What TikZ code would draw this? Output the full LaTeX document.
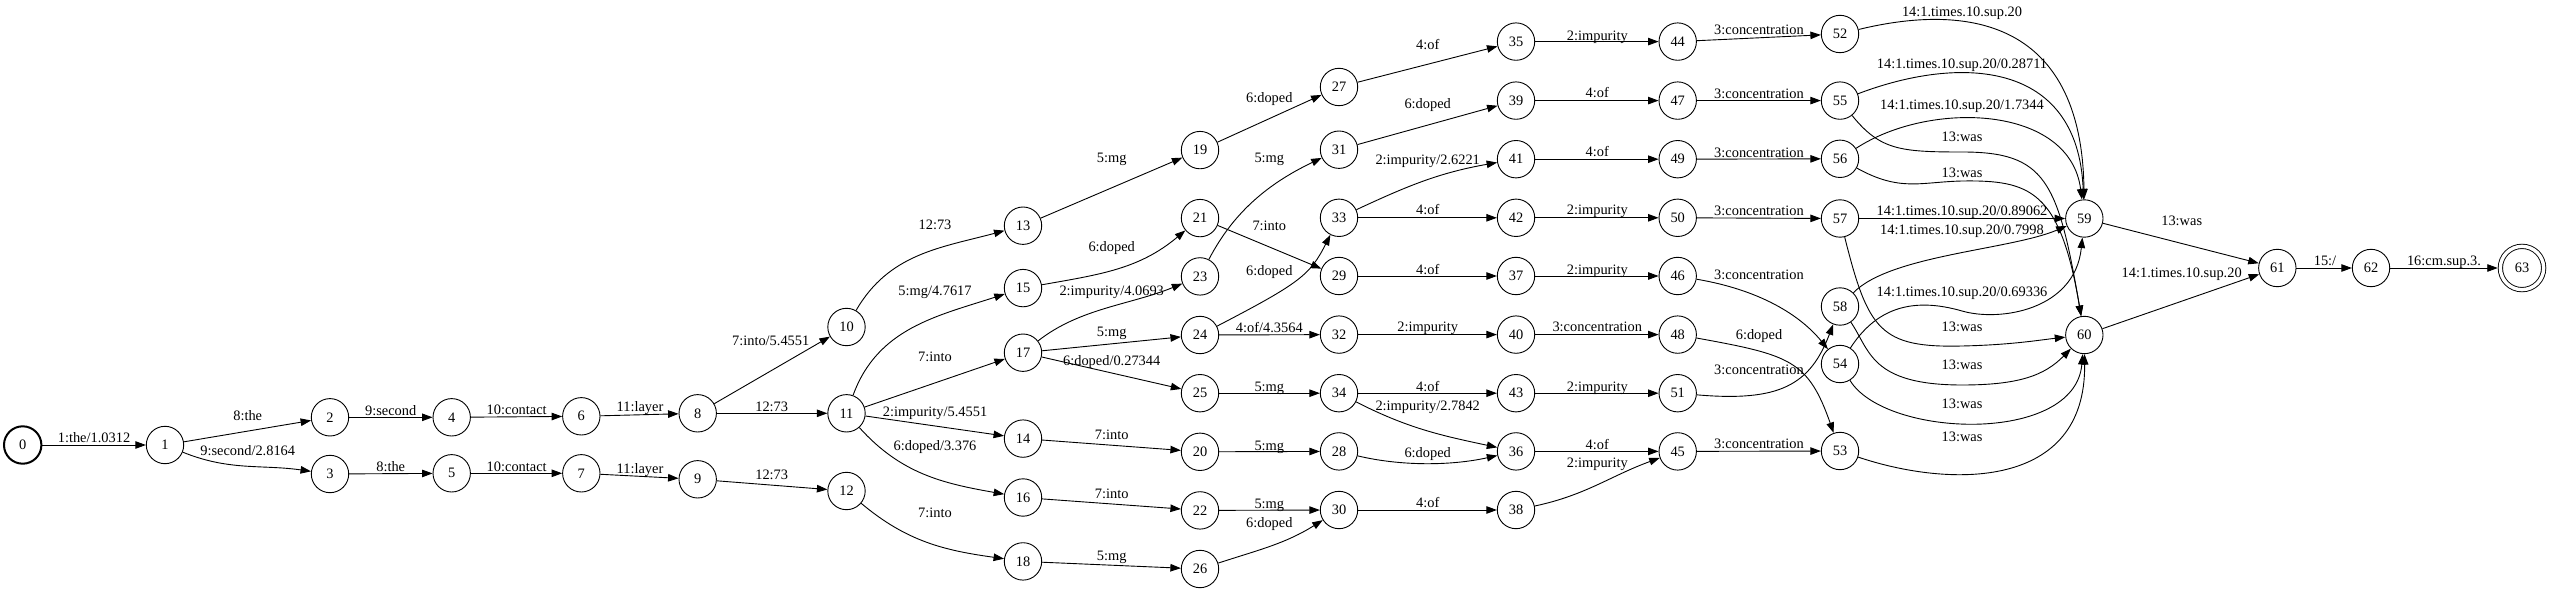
\documentclass[tikz,border=0pt]{standalone}
\usepackage{fontspec}
\setmainfont{Liberation Serif}
\usetikzlibrary{arrows.meta,automata}

\begin{document}
\begin{tikzpicture}[->,>={Triangle[length=10.5pt,width=7.5pt]},x=1pt,y=1pt,line width=.9pt,
  font=\fontsize{14.4}{17}\selectfont]
  \tikzstyle{every state}=[minimum size=37.4pt,inner sep=0pt]
  \tikzstyle{startstate}=[line width=2pt]
  \tikzstyle{finalstate}=[double,double distance=3.4pt,minimum size=43.3pt,outer sep=2.6pt]
  \tikzstyle{lbl}=[inner sep=0pt,text height=10pt,text depth=0pt]

  \useasboundingbox (0,0) rectangle (2550,-593);

  \node[state,startstate] (n0) at (22.7,-445) {0};
  \node[state] (n1)  at (165,-445)     {1};
  \node[state] (n2)  at (330,-417.3)   {2};
  \node[state] (n3)  at (330,-474)     {3};
  \node[state] (n4)  at (451.7,-417.3) {4};
  \node[state] (n5)  at (451.7,-473.3) {5};
  \node[state] (n6)  at (581.3,-416.3) {6};
  \node[state] (n7)  at (581.3,-473.3) {7};
  \node[state] (n8)  at (697.7,-413.3) {8};
  \node[state] (n9)  at (697.7,-479.3) {9};
  \node[state] (n10) at (846.5,-327)   {10};
  \node[state] (n11) at (846.5,-413.3) {11};
  \node[state] (n12) at (846.5,-491)   {12};
  \node[state] (n13) at (1023,-225.7)  {13};
  \node[state] (n15) at (1023,-288.1)  {15};
  \node[state] (n17) at (1023,-352.7)  {17};
  \node[state] (n14) at (1023,-438.6)  {14};
  \node[state] (n16) at (1023,-497.5)  {16};
  \node[state] (n18) at (1023,-561.4)  {18};
  \node[state] (n19) at (1200,-150.1)  {19};
  \node[state] (n21) at (1200,-218.1)  {21};
  \node[state] (n23) at (1200,-276.4)  {23};
  \node[state] (n24) at (1200,-335)    {24};
  \node[state] (n25) at (1200,-393.2)  {25};
  \node[state] (n20) at (1200,-451.8)  {20};
  \node[state] (n22) at (1200,-510.4)  {22};
  \node[state] (n26) at (1200,-569)    {26};
  \node[state] (n27) at (1339,-87)     {27};
  \node[state] (n31) at (1339,-149.7)  {31};
  \node[state] (n33) at (1339,-217.8)  {33};
  \node[state] (n29) at (1339,-276)    {29};
  \node[state] (n32) at (1339,-334.6)  {32};
  \node[state] (n34) at (1339,-393.2)  {34};
  \node[state] (n28) at (1339,-451.4)  {28};
  \node[state] (n30) at (1339,-510)    {30};
  \node[state] (n35) at (1516,-41.6)   {35};
  \node[state] (n39) at (1516,-100.6)  {39};
  \node[state] (n41) at (1516,-159.2)  {41};
  \node[state] (n42) at (1516,-217.8)  {42};
  \node[state] (n37) at (1516,-276)    {37};
  \node[state] (n40) at (1516,-334.6)  {40};
  \node[state] (n43) at (1516,-393.2)  {43};
  \node[state] (n36) at (1516,-451.4)  {36};
  \node[state] (n38) at (1516,-510)    {38};
  \node[state] (n44) at (1677.7,-41.6)  {44};
  \node[state] (n47) at (1677.7,-100.6) {47};
  \node[state] (n49) at (1677.7,-159.2) {49};
  \node[state] (n50) at (1677.7,-217.8) {50};
  \node[state] (n46) at (1677.7,-276)   {46};
  \node[state] (n48) at (1677.7,-334.6) {48};
  \node[state] (n51) at (1677.7,-393.2) {51};
  \node[state] (n45) at (1677.7,-451.4) {45};
  \node[state] (n52) at (1840,-34)     {52};
  \node[state] (n55) at (1840,-100.6)  {55};
  \node[state] (n56) at (1840,-158.8)  {56};
  \node[state] (n57) at (1840,-218.5)  {57};
  \node[state] (n58) at (1840,-306.5)  {58};
  \node[state] (n54) at (1840,-364)    {54};
  \node[state] (n53) at (1840,-451)    {53};
  \node[state] (n59) at (2084.3,-218.5) {59};
  \node[state] (n60) at (2084.3,-335)   {60};
  \node[state] (n61) at (2277.3,-268)   {61};
  \node[state] (n62) at (2371,-268)     {62};
  \node[state,finalstate] (n63) at (2522,-268) {63};

  \path (n0) edge (n1)  node[lbl] at (94,-437.7)  {1:the/1.0312}
        (n1) edge (n2)  node[lbl] at (247.7,-415) {8:the}
        (n1) edge [out=-22,in=172] (n3) node[lbl] at (247.7,-450) {9:second/2.8164}
        (n2) edge (n4)  node[lbl] at (390.7,-410.7) {9:second}
        (n3) edge (n5)  node[lbl] at (390.7,-466.7) {8:the}
        (n4) edge (n6)  node[lbl] at (516.7,-409.3) {10:contact}
        (n5) edge (n7)  node[lbl] at (516.7,-466)   {10:contact}
        (n6) edge (n8)  node[lbl] at (640,-406.7)   {11:layer}
        (n7) edge (n9)  node[lbl] at (640,-468.3)   {11:layer}
        (n8) edge (n10) node[lbl] at (770.7,-340)   {7:into/5.4551}
        (n8) edge (n11) node[lbl] at (771.7,-406)   {12:73}
        (n9) edge (n12) node[lbl] at (771.7,-474)   {12:73};

  \path (n10) edge [out=60,in=195] (n13) node[lbl] at (935,-225) {12:73}
        (n11) edge [out=70,in=198] (n15) node[lbl] at (935,-291) {5:mg/4.7617}
        (n11) edge (n17) node[lbl] at (935,-356) {7:into}
        (n11) edge (n14) node[lbl] at (935,-411) {2:impurity/5.4551}
        (n11) edge [out=-48,in=170] (n16) node[lbl] at (935,-445) {6:doped/3.376}
        (n12) edge [out=-40,in=172] (n18) node[lbl] at (935,-512) {7:into};

  \path (n13) edge (n19) node[lbl] at (1111.7,-158) {5:mg}
        (n15) edge [out=10,in=220] (n21) node[lbl] at (1111.7,-246.5) {6:doped}
        (n17) edge (n24) node[lbl] at (1111.7,-331.6) {5:mg}
        (n17) edge (n25) node[lbl] at (1111.7,-360) {6:doped/0.27344}
        (n14) edge (n20) node[lbl] at (1111.7,-434.8) {7:into}
        (n16) edge (n22) node[lbl] at (1111.7,-493.4) {7:into}
        (n18) edge (n26) node[lbl] at (1111.7,-555.8) {5:mg};
  \draw (n17) .. controls (1080,-308) and (1130,-305) .. (n23)
        node[lbl] at (1111.7,-290.4) {2:impurity/4.0693};

  \path (n19) edge (n27) node[lbl] at (1269.3,-97.5) {6:doped}
        (n21) edge (n29) node[lbl] at (1269.3,-226) {7:into}
        (n24) edge (n32) node[lbl] at (1269.3,-327.7) {4:of/4.3564}
        (n25) edge (n34) node[lbl] at (1269.3,-386.4) {5:mg}
        (n20) edge (n28) node[lbl] at (1269.3,-445) {5:mg}
        (n22) edge (n30) node[lbl] at (1269.3,-503.2) {5:mg}
        (n26) edge [out=18,in=212] (n30) node[lbl] at (1269.3,-522.1) {6:doped};
  \draw (n23) .. controls (1232,-215) and (1265,-185) .. (n31)
        node[lbl] at (1269.3,-158) {5:mg};
  \draw (n24) .. controls (1300,-283) and (1310,-275) .. (n33)
        node[lbl] at (1269.3,-271) {6:doped};

  \path (n27) edge (n35) node[lbl] at (1427.7,-44.6) {4:of}
        (n31) edge (n39) node[lbl] at (1427.7,-104) {6:doped}
        (n33) edge [out=25,in=190] (n41) node[lbl] at (1427.7,-159.2) {2:impurity/2.6221}
        (n33) edge (n42) node[lbl] at (1427.7,-209.8) {4:of}
        (n29) edge (n37) node[lbl] at (1427.7,-269.2) {4:of}
        (n32) edge (n40) node[lbl] at (1427.7,-327) {2:impurity}
        (n34) edge (n43) node[lbl] at (1427.7,-386) {4:of}
        (n34) edge [out=-27,in=168] (n36) node[lbl] at (1427.7,-405) {2:impurity/2.7842}
        (n30) edge (n38) node[lbl] at (1427.7,-502.8) {4:of};
  \draw (n28) .. controls (1400,-466) and (1450,-466) .. (n36)
        node[lbl] at (1427.7,-452.2) {6:doped};

  \path (n35) edge (n44) node[lbl] at (1597.3,-35.2) {2:impurity}
        (n39) edge (n47) node[lbl] at (1597.3,-92.6) {4:of}
        (n41) edge (n49) node[lbl] at (1597.3,-152) {4:of}
        (n42) edge (n50) node[lbl] at (1597.3,-209.8) {2:impurity}
        (n37) edge (n46) node[lbl] at (1597.3,-269.2) {2:impurity}
        (n40) edge (n48) node[lbl] at (1597.3,-327) {3:concentration}
        (n43) edge (n51) node[lbl] at (1597.3,-386) {2:impurity}
        (n36) edge (n45) node[lbl] at (1597.3,-444.6) {4:of}
        (n38) edge [out=12,in=200] (n45) node[lbl] at (1597.3,-462) {2:impurity};

  \path (n44) edge (n52) node[lbl] at (1759,-29.5) {3:concentration}
        (n47) edge (n55) node[lbl] at (1759,-93.4) {3:concentration}
        (n49) edge (n56) node[lbl] at (1759,-152.4) {3:concentration}
        (n50) edge (n57) node[lbl] at (1759,-210.2) {3:concentration}
        (n45) edge (n53) node[lbl] at (1759,-443.3) {3:concentration};
  \draw (n46) .. controls (1760,-290) and (1800,-315) .. (n54)
        node[lbl] at (1759,-275) {3:concentration};
  \draw (n48) .. controls (1790,-355) and (1808,-360) .. (n53)
        node[lbl] at (1759,-335) {6:doped};
  \draw (n51) .. controls (1780,-402) and (1810,-385) .. (n58)
        node[lbl] at (1759,-369.3) {3:concentration};

  \draw (n52) .. controls (1980,0) and (2082,-30) .. (n59)
        node[lbl] at (1962,-11.7) {14:1.times.10.sup.20};
  \draw (n55) .. controls (1960,-55) and (2078,-60) .. (n59)
        node[lbl] at (1962,-63.3) {14:1.times.10.sup.20/0.28711};
  \draw (n56) .. controls (1930,-100) and (2070,-105) .. (n59)
        node[lbl] at (1962,-105) {14:1.times.10.sup.20/1.7344};
  \draw (n55) .. controls (1880,-150) and (1900,-152) .. (1962,-152)
        .. controls (2045,-152) and (2058,-180) .. (n60)
        node[lbl] at (1962,-136.7) {13:was};
  \draw (n56) .. controls (1900,-192) and (1920,-182) .. (1962,-181)
        .. controls (2030,-180) and (2060,-190) .. (n60)
        node[lbl] at (1962,-172.3) {13:was};
  \path (n57) edge (n59) node[lbl] at (1962,-210.7) {14:1.times.10.sup.20/0.89062};
  \draw (n58) .. controls (1890,-255) and (2010,-250) .. (n59)
        node[lbl] at (1962,-230) {14:1.times.10.sup.20/0.7998};
  \draw (n54) .. controls (1875,-310) and (1910,-296) .. (1962,-311)
        .. controls (2000,-322) and (2075,-310) .. (n59)
        node[lbl] at (1962,-291.7) {14:1.times.10.sup.20/0.69336};
  \draw (n57) .. controls (1868,-330) and (1880,-348) .. (1962,-346)
        .. controls (2010,-345) and (2040,-340) .. (n60)
        node[lbl] at (1962,-326.7) {13:was};
  \draw (n58) .. controls (1870,-350) and (1870,-385) .. (1962,-385)
        .. controls (2020,-385) and (2045,-375) .. (n60)
        node[lbl] at (1962,-365) {13:was};
  \draw (n54) .. controls (1885,-438) and (2075,-445) .. (n60)
        node[lbl] at (1962,-403.3) {13:was};
  \draw (n53) .. controls (1950,-488) and (2086,-490) .. (n60)
        node[lbl] at (1962,-436) {13:was};

  \path (n59) edge (n61) node[lbl] at (2181.7,-220.7) {13:was}
        (n60) edge (n61) node[lbl] at (2181.7,-272.7) {14:1.times.10.sup.20}
        (n61) edge (n62) node[lbl] at (2325,-261) {15:/}
        (n62) edge (n63) node[lbl] at (2444,-261) {16:cm.sup.3.};
\end{tikzpicture}
\end{document}
